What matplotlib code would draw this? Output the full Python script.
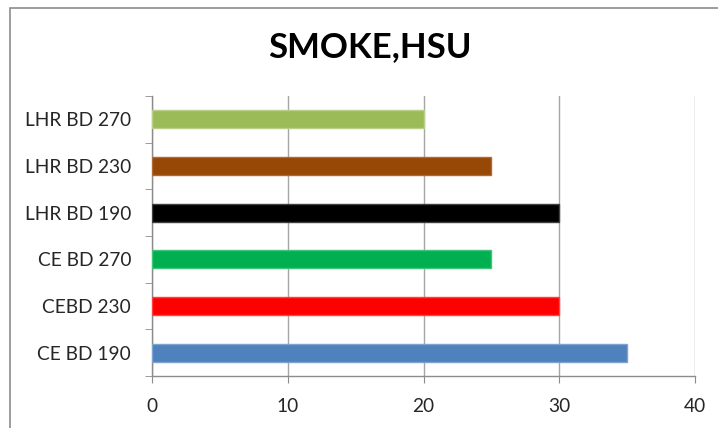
import matplotlib
matplotlib.use("Agg")
import numpy as np
from matplotlib import pyplot as plt
from matplotlib.patches import Rectangle

# Data

categories = ["LHR BD 270", "LHR BD 230", "LHR BD 190", "CE BD 270", "CEBD 230", "CE BD 190"]
values = [20, 25, 30, 25, 30, 35]
colors = ["#9BBB59", "#974706", "#000000", "#00B050", "#FF0000", "#4F81BD"]
edges = ["#B9D08A", "#B06A35", "#404040", "#40C47C", "#FF4040", "#7FA3D0"]
xticks = [0, 10, 20, 30, 40]

plt.rcParams['font.family'] = ['Lato', 'DejaVu Sans']

fig = plt.figure(figsize=(7.18, 4.28), dpi=100)
ax = fig.add_axes([152/718, 1 - 376/428, (695 - 152)/718, (376 - 96)/428])

# Bars, first category drawn on top
ypos = np.arange(len(categories))[::-1]
ax.barh(ypos, values, height=0.38, color=colors, edgecolor=edges, linewidth=1, zorder=3)

ax.set_xlim(0, 40)
ax.set_ylim(-0.5, len(categories) - 0.5)
ax.set_xticks(xticks)
ax.set_xticklabels([str(t) for t in xticks])
ax.set_yticks(ypos)
ax.set_yticklabels(categories)
ax.set_yticks(np.arange(-0.5, len(categories)), minor=True)

ax.grid(axis="x", color="#A6A6A6", linewidth=1, zorder=0)
for s in ["top", "right"]:
    ax.spines[s].set_visible(False)
for s in ["left", "bottom"]:
    ax.spines[s].set_color("#8C8C8C")
    ax.spines[s].set_linewidth(1)

ax.tick_params(axis="y", which="major", length=0, pad=15, labelsize=13.8, labelcolor="#262626")
ax.tick_params(axis="y", which="minor", length=5, color="#8C8C8C", direction="out")
ax.tick_params(axis="x", which="major", length=5, color="#8C8C8C", direction="out", pad=11, labelsize=13.8, labelcolor="#262626")

fig.text(370/718, 1 - 47/428, "SMOKE,HSU", ha="center", va="center", fontsize=25, fontweight="bold", color="#000000")

# Chart frame
fig.patches.append(Rectangle((9.5/718, 0 - 0.1), 1.2, 1 - 7.5/428 + 0.1, transform=fig.transFigure,
                             fill=False, edgecolor="#8C8C8C", linewidth=1.2))

fig.savefig("out.png", dpi=100)
